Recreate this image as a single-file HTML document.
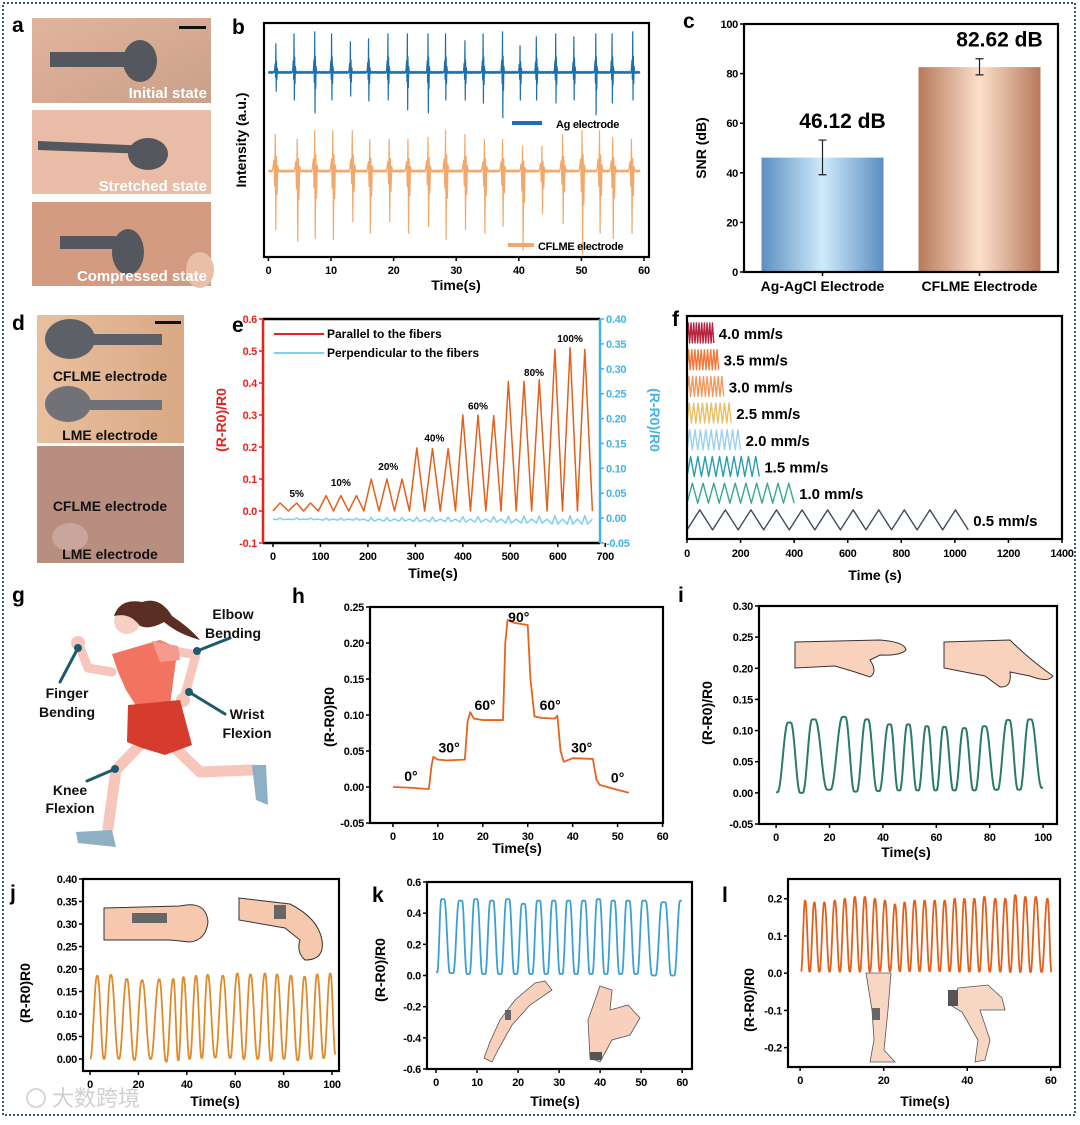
<!DOCTYPE html>
<html><head><meta charset="utf-8">
<style>
html,body{margin:0;padding:0;background:#fff;}
svg text{font-family:"Liberation Sans Narrow","Liberation Sans",sans-serif;font-weight:bold;}
.tk{font-size:11px;letter-spacing:-0.3px;}
.tt{font-size:14px;}
.pl{font-size:21px;font-family:"Liberation Sans",sans-serif !important;}
</style></head>
<body>
<svg id="fig" xmlns="http://www.w3.org/2000/svg" width="1080" height="1120" viewBox="0 0 1080 1120">
<defs>
<linearGradient id="gAg" x1="0" x2="1" y1="0" y2="0"><stop offset="0" stop-color="#5b8fc0"/><stop offset="0.5" stop-color="#cfeafc"/><stop offset="1" stop-color="#5b8fc0"/></linearGradient>
<linearGradient id="gCf" x1="0" x2="1" y1="0" y2="0"><stop offset="0" stop-color="#b8795a"/><stop offset="0.5" stop-color="#fbe0cc"/><stop offset="1" stop-color="#b8795a"/></linearGradient>
<linearGradient id="skin1" x1="0" x2="1" y1="0" y2="1"><stop offset="0" stop-color="#e2b49c"/><stop offset="1" stop-color="#caa08a"/></linearGradient>
<linearGradient id="skin2" x1="0" x2="1" y1="0" y2="0"><stop offset="0" stop-color="#e9c09e"/><stop offset="1" stop-color="#d9a884"/></linearGradient>
</defs>
<rect x="3" y="3" width="1072" height="1112" fill="none" stroke="#2b5a6e" stroke-width="2" stroke-dasharray="2 2"/>

<g>
 <rect x="32" y="18" width="179" height="85" fill="url(#skin1)"/>
 <rect x="50" y="52" width="90" height="15" fill="#55575e"/>
 <ellipse cx="140" cy="61" rx="17" ry="21" fill="#55575e"/>
 <rect x="179" y="26" width="27" height="3" fill="#111"/>
 <text x="207" y="98" text-anchor="end" fill="#fff" font-size="15" style="font-family:'Liberation Sans',sans-serif">Initial state</text>
 <rect x="32" y="110" width="179" height="84" fill="#e8bca6"/>
 <polygon points="38,141 150,146 150,154 38,150" fill="#55575e"/>
 <ellipse cx="148" cy="154" rx="20" ry="16" fill="#55575e"/>
 <text x="207" y="191" text-anchor="end" fill="#fff" font-size="15" style="font-family:'Liberation Sans',sans-serif">Stretched state</text>
 <rect x="32" y="202" width="179" height="84" fill="#d39c82"/>
 <rect x="60" y="236" width="56" height="13" fill="#55575e"/>
 <ellipse cx="128" cy="252" rx="16" ry="23" fill="#55575e"/>
 <ellipse cx="200" cy="270" rx="14" ry="18" fill="#e8c0a8"/>
 <text x="207" y="281" text-anchor="end" fill="#fff" font-size="15" style="font-family:'Liberation Sans',sans-serif">Compressed state</text>
</g>
<g>
 <rect x="37" y="315" width="147" height="128" fill="url(#skin2)"/>
 <ellipse cx="70" cy="339" rx="25" ry="20" fill="#5e6068"/>
 <rect x="90" y="334" width="72" height="11" fill="#5e6068"/>
 <rect x="155" y="321" width="26" height="3" fill="#111"/>
 <text x="110" y="381" text-anchor="middle" fill="#111" font-size="14" style="font-family:'Liberation Sans',sans-serif">CFLME electrode</text>
 <ellipse cx="68" cy="404" rx="23" ry="18" fill="#707278"/>
 <rect x="86" y="400" width="76" height="10" fill="#707278"/>
 <text x="110" y="440" text-anchor="middle" fill="#111" font-size="14" style="font-family:'Liberation Sans',sans-serif">LME electrode</text>
 <rect x="37" y="446" width="147" height="117" fill="#b88e80"/>
 <ellipse cx="70" cy="537" rx="18" ry="14" fill="#c9a59c"/>
 <text x="110" y="511" text-anchor="middle" fill="#111" font-size="14" style="font-family:'Liberation Sans',sans-serif">CFLME electrode</text>
 <text x="110" y="559" text-anchor="middle" fill="#111" font-size="14" style="font-family:'Liberation Sans',sans-serif">LME electrode</text>
</g>
<g stroke-linecap="round" stroke-linejoin="round">
 <polyline points="140,745 116,770 108,828" fill="none" stroke="#f7c6ba" stroke-width="11"/>
 <polyline points="172,745 200,772 252,770" fill="none" stroke="#f7c6ba" stroke-width="11"/>
 <path d="M76,832 L112,830 L116,847 L78,843 Z" fill="#8fb0c4"/>
 <path d="M252,765 L266,765 L268,805 L256,800 Z" fill="#8fb0c4"/>
 <polyline points="78,642 88,668 112,672" fill="none" stroke="#f7c6ba" stroke-width="9"/>
 <polyline points="170,650 196,655 184,698" fill="none" stroke="#f7c6ba" stroke-width="9"/>
 <circle cx="78" cy="643" r="7" fill="#f7c6ba"/>
 <circle cx="183" cy="700" r="7" fill="#f7c6ba"/>
 <polygon points="112,654 160,640 178,648 176,660 170,705 140,712 126,690 118,672" fill="#f2735f"/>
 <polygon points="152,641 178,646 180,660 160,662" fill="#f59a8c"/>
 <polygon points="128,705 180,700 192,745 165,755 142,748 127,742" fill="#d53c2b"/>
 <circle cx="127" cy="621" r="13" fill="#f7d0c4"/>
 <path d="M114,616 Q120,598 142,602 Q160,596 172,616 Q190,628 200,640 Q178,634 164,622 Q150,630 140,626 Q130,612 114,616 Z" fill="#5b2e24"/>
 <line x1="78" y1="648" x2="60" y2="682" stroke="#1e5a6e" stroke-width="3"/>
 <circle cx="78" cy="648" r="4" fill="#1e5a6e"/>
 <line x1="197" y1="651" x2="230" y2="638" stroke="#1e5a6e" stroke-width="3"/>
 <circle cx="197" cy="651" r="4" fill="#1e5a6e"/>
 <line x1="189" y1="692" x2="225" y2="714" stroke="#1e5a6e" stroke-width="3"/>
 <circle cx="189" cy="692" r="4" fill="#1e5a6e"/>
 <line x1="115" y1="769" x2="87" y2="781" stroke="#1e5a6e" stroke-width="3"/>
 <circle cx="115" cy="769" r="4" fill="#1e5a6e"/>
</g>
<g font-size="14" fill="#111">
 <text x="233" y="619" text-anchor="middle" style="font-family:'Liberation Sans',sans-serif">Elbow</text>
 <text x="233" y="638" text-anchor="middle" style="font-family:'Liberation Sans',sans-serif">Bending</text>
 <text x="67" y="698" text-anchor="middle" style="font-family:'Liberation Sans',sans-serif">Finger</text>
 <text x="67" y="717" text-anchor="middle" style="font-family:'Liberation Sans',sans-serif">Bending</text>
 <text x="247" y="719" text-anchor="middle" style="font-family:'Liberation Sans',sans-serif">Wrist</text>
 <text x="247" y="738" text-anchor="middle" style="font-family:'Liberation Sans',sans-serif">Flexion</text>
 <text x="70" y="795" text-anchor="middle" style="font-family:'Liberation Sans',sans-serif">Knee</text>
 <text x="70" y="813" text-anchor="middle" style="font-family:'Liberation Sans',sans-serif">Flexion</text>
</g>
<g stroke="#333" stroke-width="1">
 <path d="M795,642 L880,640 Q905,642 906,650 Q900,656 880,655 L870,660 Q878,672 870,677 L855,672 L835,666 L795,668 Z" fill="#f9d2bc"/>
 <path d="M944,642 L1010,640 Q1030,660 1053,676 Q1048,683 1030,676 L1010,672 Q1012,688 1000,687 L985,676 L944,668 Z" fill="#f9d2bc"/>
</g>
<g stroke="#333" stroke-width="1">
 <path d="M104,908 L180,906 Q206,900 208,922 Q206,940 190,942 L170,940 L104,940 Z" fill="#f6c9ae"/>
 <rect x="132" y="913" width="35" height="10" fill="#666" stroke="none"/>
 <path d="M239,898 L290,904 Q318,918 322,940 Q325,960 305,960 Q296,952 300,940 L285,928 L239,920 Z" fill="#f6c9ae"/>
 <rect x="274" y="905" width="12" height="14" fill="#666" stroke="none"/>
</g>
<g stroke="#555" stroke-width="0.8">
 <path d="M545,981 L552,990 L530,1005 L512,1025 L498,1050 L492,1062 L484,1058 L490,1042 L500,1020 L515,1000 L535,983 Z" fill="#f8d0bc"/>
 <rect x="505" y="1010" width="6" height="10" fill="#666" stroke="none"/>
 <path d="M600,986 L612,990 L610,1010 L628,1005 L640,1018 L630,1035 L612,1040 L600,1062 L590,1058 L588,1020 Z" fill="#f8d0bc"/>
 <rect x="590" y="1052" width="12" height="8" fill="#555" stroke="none"/>
</g>
<g stroke="#555" stroke-width="0.8">
 <path d="M866,973 L891,973 L888,1010 L884,1050 L895,1062 L870,1062 L874,1040 L872,1010 Z" fill="#f8d6c4"/>
 <rect x="872" y="1008" width="8" height="12" fill="#666" stroke="none"/>
 <path d="M958,988 L988,985 L1002,998 L1005,1010 L980,1010 L990,1040 L985,1060 L975,1062 L978,1040 L962,1012 L950,1005 Z" fill="#f8d6c4"/>
 <rect x="948" y="990" width="10" height="16" fill="#555" stroke="none"/>
</g>
<g>
 <circle cx="36" cy="1098" r="9" fill="none" stroke="#d8d8d8" stroke-width="2"/>
 <text x="52" y="1106" fill="#d0d0d0" font-size="22" style="font-family:'Noto Sans CJK SC',sans-serif;font-weight:normal">大数跨境</text>
</g>
</svg>
<script>
// ---------- data ----------
const bTicks=[0,10,20,30,40,50,60];
const bAgBeats=[1.2,4.1,7.4,10.1,13.1,16.0,19.1,22.2,25.5,28.3,31.4,34.3,37.4,40.2,42.8,45.9,48.8,52.3,54.9,58.2];
const bAgUp=[0.29,0.39,0.41,0.39,0.31,0.34,0.39,0.39,0.39,0.39,0.32,0.39,0.41,0.27,0.36,0.39,0.36,0.39,0.39,0.41];
const bAgDown=[0.19,0.28,0.41,0.28,0.24,0.29,0.28,0.38,0.41,0.28,0.28,0.31,0.46,0.28,0.28,0.31,0.28,0.43,0.31,0.28];
const bCfBeats=[1.1,4.6,7.4,10.3,13.4,16.2,19.3,22.3,25.5,28.3,31.4,34.5,37.4,40.6,43.7,47.0,50.1,52.9,55.0,58.0];
const bCfUp=[0.37,0.32,0.41,0.41,0.41,0.32,0.32,0.32,0.34,0.41,0.37,0.32,0.32,0.25,0.25,0.37,0.41,0.41,0.34,0.32];
const bCfDown=[0.59,0.71,0.68,0.69,0.51,0.63,0.51,0.63,0.56,0.69,0.59,0.63,0.56,0.80,0.43,0.53,0.84,0.63,0.68,0.63];

const cCats=['Ag-AgCl Electrode','CFLME Electrode'];
const cVals=[46.12,82.62];
const cErrLo=[39.2,79.5];
const cErrHi=[53.2,86.0];
const cValLabels=['46.12 dB','82.62 dB'];
const cYTicks=[0,20,40,60,80,100];

const eXTicks=[0,100,200,300,400,500,600,700];
const eLTicks=[-0.1,0,0.1,0.2,0.3,0.4,0.5,0.6];
const eLLabels=['-0.1','0.0','0.1','0.2','0.3','0.4','0.5','0.6'];
const eRTicks=[-0.05,0,0.05,0.1,0.15,0.2,0.25,0.3,0.35,0.4];
const eRLabels=['-0.05','0.00','0.05','0.10','0.15','0.20','0.25','0.30','0.35','0.40'];
const ePeakT=[15,50,79,112,143,176,207,240,272,303,336,369,400,432,465,496,529,561,594,626,657];
const ePeakV=[0.025,0.025,0.025,0.048,0.048,0.048,0.1,0.1,0.1,0.197,0.195,0.195,0.3,0.3,0.298,0.405,0.405,0.41,0.505,0.51,0.505];
const ePerpHi=[0.0,0.0,0.0,0.0,0.0,0.0,0.001,0.001,0.001,0.002,0.002,0.002,0.003,0.003,0.003,0.004,0.004,0.004,0.005,0.005,0.005];
const ePerpLo=[-0.003,-0.003,-0.003,-0.004,-0.004,-0.004,-0.006,-0.006,-0.006,-0.007,-0.007,-0.007,-0.008,-0.008,-0.008,-0.010,-0.010,-0.010,-0.012,-0.012,-0.012];
const eAnnText=['5%','10%','20%','40%','60%','80%','100%'];
const eAnnT=[50,143,243,340,432,550,626];
const eAnnV=[0.057,0.09,0.14,0.23,0.33,0.435,0.54];

const fXTicks=[0,200,400,600,800,1000,1200,1400];
const fSpeeds=['4.0 mm/s','3.5 mm/s','3.0 mm/s','2.5 mm/s','2.0 mm/s','1.5 mm/s','1.0 mm/s','0.5 mm/s'];
const fEnd=[100,118,137,165,200,270,400,1050];
const fCycles=[10,10,10,10,10,10,10,11];

const hXTicks=[0,10,20,30,40,50,60];
const hYTicks=[-0.05,0,0.05,0.1,0.15,0.2,0.25];
const hYLabels=['-0.05','0.00','0.05','0.10','0.15','0.20','0.25'];
const hT=[0,4,8,8.6,9,10,12,16,16.6,17.2,18,20,24.5,25,25.5,27,30,30.6,31.5,33,36,36.6,37.3,38,40,44.5,45.3,46,50,52.5];
const hV=[0,-0.001,-0.003,0.03,0.042,0.038,0.037,0.038,0.09,0.104,0.095,0.093,0.093,0.2,0.232,0.228,0.225,0.15,0.098,0.096,0.095,0.099,0.05,0.035,0.04,0.039,0.01,0.003,-0.004,-0.008];
const hAnnText=['0°','30°','60°','90°','60°','30°','0°'];
const hAnnT=[4,12.5,20.5,28,35,42,50];
const hAnnV=[0.008,0.048,0.107,0.229,0.107,0.048,0.006];

const iXTicks=[0,20,40,60,80,100];
const iYTicks=[-0.05,0,0.05,0.1,0.15,0.2,0.25,0.3];
const iYLabels=['-0.05','0.00','0.05','0.10','0.15','0.20','0.25','0.30'];
const iPeakT=[5,14,25.5,34,42.5,49.5,56.5,63,70.5,78,87,95];
const iPeakV=[0.113,0.118,0.122,0.118,0.11,0.11,0.107,0.106,0.104,0.107,0.117,0.118];
const iValV=[0,0.005,0.002,0.003,0.004,0.004,0.004,0.004,0.004,0.005,0.005];

const jXTicks=[0,20,40,60,80,100];
const jYTicks=[0,0.05,0.1,0.15,0.2,0.25,0.3,0.35,0.4];
const jYLabels=['0.00','0.05','0.10','0.15','0.20','0.25','0.30','0.35','0.40'];
const jPeakT=[3.0,8.6,15.2,21.5,28.6,34.4,38.6,43.8,48.6,54.9,60.9,66.3,72.3,77.3,83.0,88.7,93.9,99.3];
const jPeakV=[0.185,0.187,0.178,0.175,0.177,0.178,0.182,0.185,0.187,0.185,0.19,0.188,0.19,0.188,0.185,0.183,0.188,0.19];
const jValV=[0.0,0.0,-0.002,0.0,-0.006,-0.003,0.0,0.002,0.003,0.002,0.0,0.0,-0.004,0.0,-0.003,0.0,0.002];

const kXTicks=[0,10,20,30,40,50,60];
const kYTicks=[-0.6,-0.4,-0.2,0,0.2,0.4,0.6];
const kYLabels=['-0.6','-0.4','-0.2','0.0','0.2','0.4','0.6'];
const kPeakT=[1.6,6,9.7,13.6,17.5,21.3,25,28.7,32.3,36,39.6,43.2,46.8,50.7,55.5,59.9];
const kPeakV=[0.49,0.48,0.49,0.48,0.49,0.46,0.48,0.48,0.48,0.48,0.49,0.48,0.48,0.48,0.47,0.48];
const kValV=[0.015,0.01,0.01,0.01,0.01,0.01,0.01,0.01,0.01,0.01,0.01,0.01,0.01,0.0,0.0];

const lXTicks=[0,20,40,60];
const lYTicks=[-0.2,-0.1,0,0.1,0.2];
const lYLabels=['-0.2','-0.1','0.0','0.1','0.2'];
const lPeakT=[1.2,3.4,5.8,8.3,10.7,13.1,15.5,17.9,20.3,22.7,25,27.4,29.8,32.2,34.6,37,39.3,41.7,44.1,46.7,49.1,51.5,53.9,56.4,59.2];
const lPeakV=[0.195,0.19,0.19,0.195,0.2,0.205,0.205,0.2,0.195,0.185,0.19,0.195,0.195,0.195,0.195,0.2,0.2,0.2,0.205,0.2,0.2,0.21,0.205,0.205,0.2];
const lValV=[0.004,0.004,0.004,0.004,0.004,0.004,0.004,0.005,0.005,0.005,0.005,0.005,0.005,0.005,0.005,0.004,0.004,0.004,0.004,0.004,0.003,0.003,0.003,0.003];

// ---------- helpers ----------
const NS='http://www.w3.org/2000/svg';
const svg=document.getElementById('fig');
function mk(tag,a,p){const e=document.createElementNS(NS,tag);for(const k in a)e.setAttribute(k,a[k]);(p||svg).appendChild(e);return e;}
function txt(s,a,p){const e=mk('text',a,p);e.textContent=s;return e;}
function lin(d0,d1,p0,p1){return v=>p0+(v-d0)/(d1-d0)*(p1-p0);}
function group(name){const g=mk('g',{});return g;}
function frame(g,b,color){
  const r=mk('rect',{x:b.x0,y:b.y0,width:b.x1-b.x0,height:b.y1-b.y0,fill:'none',stroke:color||'#000','stroke-width':2.2},g);
  
  
}
function xAxis(g,b,sx,ticks,labels,ly){
  ticks.forEach((t,i)=>{
    const l=mk('line',{x1:sx(t),x2:sx(t),y1:b.y1,y2:b.y1+4,stroke:'#000','stroke-width':1.5},g);
    
    
    const s=txt(labels?labels[i]:String(t),{x:sx(t),y:ly||b.y1+17,'text-anchor':'middle',class:'tk'},g);
    
    
  });
}
function yAxis(g,b,sy,ticks,labels,side,color){
  const x=side==='r'?b.x1:b.x0;
  const d=side==='r'?1:-1;
  ticks.forEach((t,i)=>{
    const l=mk('line',{x1:x,x2:x+4*d,y1:sy(t),y2:sy(t),stroke:color||'#000','stroke-width':1.5},g);
    
    
    const s=txt(labels[i],{x:x+6*d,y:sy(t)+4,'text-anchor':side==='r'?'start':'end',class:'tk',fill:color||'#000'},g);
    
    
  });
}
function title(g,s,x,y,rot,color,name){
  const a={x:x,y:y,'text-anchor':'middle',class:'tt',fill:color||'#000'};
  if(rot)a.transform='rotate(-90 '+x+' '+y+')';
  const t=txt(s,a,g);
  
  
  return t;
}
function panelLabel(s,x,y){
  const t=txt(s,{x:x,y:y,class:'pl'});
  
  
}
function path(g,pts,sx,sy,color,w,name){
  const d=pts.map((p,i)=>(i?'L':'M')+sx(p[0]).toFixed(2)+','+sy(p[1]).toFixed(2)).join('');
  const e=mk('path',{d:d,fill:'none',stroke:color,'stroke-width':w,'stroke-linejoin':'round'},g);
  
  
  return e;
}
function wave(pT,pV,vV,t0,v0,t1,v1,flat){
  const kn=[[t0,v0]];
  pT.forEach((t,i)=>{kn.push([t,pV[i]]);if(i<pT.length-1)kn.push([(t+pT[i+1])/2,vV[i]!==undefined?vV[i]:0]);});
  if(t1!==null)kn.push([t1,v1]);
  const out=[];
  for(let i=0;i<kn.length-1;i++){
    const a=kn[i],b=kn[i+1];
    for(let s=0;s<12;s++){
      const u=s/12;
      let f=Math.min(1,Math.max(0,(u-flat)/(1-2*flat)));
      const w=(1-Math.cos(Math.PI*f))/2;
      out.push([a[0]+(b[0]-a[0])*u,a[1]+(b[1]-a[1])*w]);
    }
  }
  out.push(kn[kn.length-1]);
  return out;
}

panelLabel('a',12,32);panelLabel('b',232,34);panelLabel('c',683,28);
panelLabel('d',12,330);panelLabel('e',232,332);panelLabel('f',672,326);
panelLabel('g',12,602);panelLabel('h',292,603);panelLabel('i',678,602);
panelLabel('j',10,900);panelLabel('k',372,902);panelLabel('l',722,902);

// ---------- b ----------
(function(){
  const g=group('panel-b-ecg');
  const b={x0:264,y0:23,x1:649,y1:257};
  const sx=lin(-0.7,60.8,b.x0,b.x1), sy=lin(-0.87,1.5,b.y1,b.y0);
  function ecg(beats,up,down,base,wid){
    const pts=[];let t=0,k=0;
    beats.forEach((bt,i)=>{
      while(t<bt-0.25*wid){pts.push([t,base+(k%2?0.01:-0.01)]);t+=0.12;k++;}
      const o=[[-0.25,0],[-0.12,up[i]*0.3],[-0.06,-down[i]*0.25],[0,up[i]],[0.05,-down[i]],[0.1,up[i]*0.4],[0.16,-down[i]*0.4],[0.22,up[i]*0.15],[0.3,0]];
      o.forEach(p=>pts.push([bt+p[0]*wid,base+p[1]]));
      t=bt+0.3*wid;
    });
    while(t<59.4){pts.push([t,base+(k%2?0.01:-0.01)]);t+=0.12;k++;}
    return pts;
  }
  path(g,ecg(bAgBeats,bAgUp,bAgDown,1.0,1),sx,sy,'#1f6fa8',1.2,'ag-electrode-trace');
  path(g,ecg(bCfBeats,bCfUp,bCfDown,0,1.8),sx,sy,'#f2a86a',1.2,'cflme-electrode-trace');
  frame(g,b);
  xAxis(g,b,sx,bTicks);
  title(g,'Time(s)',456,290,false,'#000','x-axis-title');
  title(g,'Intensity (a.u.)',246,140,true,'#000','y-axis-title');
  const l1=mk('line',{x1:512,x2:542,y1:123,y2:123,stroke:'#1f6fa8','stroke-width':4},g);
  
  
  const t1=txt('Ag electrode',{x:556,y:128,class:'tk','font-size':'13'},g);
  
  
  const l2=mk('line',{x1:508,x2:534,y1:245,y2:245,stroke:'#f2a86a','stroke-width':4},g);
  
  
  const t2=txt('CFLME electrode',{x:538,y:250,class:'tk','font-size':'13'},g);
  
  
})();

// ---------- c ----------
(function(){
  const g=group('panel-c-snr');
  const b={x0:744,y0:24,x1:1058,y1:272};
  const sy=lin(0,100,b.y1,b.y0);
  const bw=(b.x1-b.x0)/cCats.length;
  const bx=i=>b.x0+(i+0.5)*bw;
  const fills=['url(#gAg)','url(#gCf)'];
  cCats.forEach((c,i)=>{
    const r=mk('rect',{x:bx(i)-61,y:sy(cVals[i]),width:122,height:sy(0)-sy(cVals[i]),fill:fills[i]},g);
    
    
    const e=mk('path',{d:'M'+bx(i)+','+sy(cErrLo[i])+'V'+sy(cErrHi[i])+'M'+(bx(i)-4)+','+sy(cErrLo[i])+'h8M'+(bx(i)-4)+','+sy(cErrHi[i])+'h8',stroke:'#222','stroke-width':1.2,fill:'none'},g);
    
    
    const v=txt(cValLabels[i],{x:bx(i)+20,y:sy(cErrHi[i])-12,'text-anchor':'middle','font-size':'21'},g);
    
    
    const tk=mk('line',{x1:bx(i),x2:bx(i),y1:b.y1,y2:b.y1+4,stroke:'#000','stroke-width':1.5},g);
    
    
    const cl=txt(c,{x:bx(i),y:b.y1+19,'text-anchor':'middle','font-size':'14'},g);
    
    
  });
  frame(g,b);
  yAxis(g,b,sy,cYTicks,cYTicks.map(String),'l');
  title(g,'SNR (dB)',706,148,true,'#000','y-axis-title');
})();

// ---------- e ----------
(function(){
  const g=group('panel-e-strain');
  const b={x0:263,y0:319,x1:600,y1:543};
  const sx=lin(-21,689,b.x0,b.x1), syL=lin(-0.1,0.6,b.y1,b.y0), syR=lin(-0.05,0.4,b.y1,b.y0);
  const par=[[0,0]];
  ePeakT.forEach((t,i)=>{par.push([t,ePeakV[i]]);par.push([i<ePeakT.length-1?(t+ePeakT[i+1])/2:673,0]);});
  path(g,par,sx,syL,'#e2601c',1.5,'parallel-trace');
  const perp=[[0,-0.002]];
  ePeakT.forEach((t,i)=>{perp.push([t-6,ePerpLo[i]]);perp.push([t,ePerpHi[i]]);perp.push([t+6,ePerpLo[i]]);perp.push([i<ePeakT.length-1?(t+ePeakT[i+1])/2:673,-0.002]);});
  path(g,perp,sx,syR,'#80cff2',1.5,'perpendicular-trace');
  const fr=mk('path',{d:`M${b.x0},${b.y0}H${b.x1}M${b.x0},${b.y1}H${b.x1}`,stroke:'#000','stroke-width':2.5,fill:'none'},g);
  
  
  const la=mk('line',{x1:b.x0,x2:b.x0,y1:b.y0,y2:b.y1,stroke:'#e8231f','stroke-width':2.5},g);
  
  
  const ra=mk('line',{x1:b.x1,x2:b.x1,y1:b.y0,y2:b.y1,stroke:'#45b3e8','stroke-width':2.5},g);
  
  
  xAxis(g,b,sx,eXTicks);
  yAxis(g,b,syL,eLTicks,eLLabels,'l','#e8231f');
  yAxis(g,b,syR,eRTicks,eRLabels,'r','#45b3e8');
  title(g,'Time(s)',433,578,false,'#000','x-axis-title');
  title(g,'(R-R0)/R0',226,420,true,'#e8231f','y-axis-title-left');
  title(g,'(R-R0)/R0',650,420,true,'#45b3e8','y-axis-title-right').setAttribute('transform','rotate(90 650 420)');
  eAnnText.forEach((s,i)=>{
    const t=txt(s,{x:sx(eAnnT[i]),y:syL(eAnnV[i])+4,'text-anchor':'middle','font-size':'10'},g);
    
    
  });
  const ll1=mk('line',{x1:274,x2:324,y1:334,y2:334,stroke:'#e8231f','stroke-width':2},g);
  
  
  const lt1=txt('Parallel to the fibers',{x:327,y:338,'font-size':'12'},g);
  
  
  const ll2=mk('line',{x1:274,x2:324,y1:353,y2:353,stroke:'#80cff2','stroke-width':2},g);
  
  
  const lt2=txt('Perpendicular to the fibers',{x:327,y:357,'font-size':'12'},g);
  
  
})();

// ---------- f ----------
(function(){
  const g=group('panel-f-speed');
  const b={x0:687,y0:316,x1:1062,y1:539};
  const sx=lin(0,1400,b.x0,b.x1);
  const colors=['#b82440','#f2783a','#f29a62','#e8c064','#9cd0ec','#2a9cb8','#38a890','#3e4c5c'];
  fSpeeds.forEach((s,i)=>{
    const cy=333+i*26.7;
    const sy=lin(0,1,cy+10,cy-10);
    const per=fEnd[i]/fCycles[i];
    const pts=[];
    for(let k=0;k<fCycles[i];k++){pts.push([k*per,0]);pts.push([(k+0.5)*per,1]);}
    pts.push([fEnd[i],0]);
    path(g,pts,sx,sy,colors[i],1.4,'speed-trace');
    const t=txt(s,{x:sx(fEnd[i])+5,y:cy+6,'font-size':'15'},g);
    
    
  });
  frame(g,b);
  xAxis(g,b,sx,fXTicks,null,b.y1+18);
  title(g,'Time (s)',875,580,false,'#000','x-axis-title');
})();

// ---------- h ----------
(function(){
  const g=group('panel-h-elbow-angle');
  const b={x0:370,y0:607,x1:663,y1:823};
  const sx=lin(-5.1,60.1,b.x0,b.x1), sy=lin(-0.05,0.25,b.y1,b.y0);
  path(g,hT.map((t,i)=>[t,hV[i]]),sx,sy,'#e8621e',1.8,'angle-trace');
  frame(g,b);
  xAxis(g,b,sx,hXTicks);
  yAxis(g,b,sy,hYTicks,hYLabels,'l');
  title(g,'Time(s)',517,853,false,'#000','x-axis-title');
  title(g,'(R-R0)R0',334,717,true,'#000','y-axis-title');
  hAnnText.forEach((s,i)=>{
    const t=txt(s,{x:sx(hAnnT[i]),y:sy(hAnnV[i]),'text-anchor':'middle','font-size':'14'},g);
    
    
  });
})();

// ---------- i ----------
(function(){
  const g=group('panel-i-finger');
  const b={x0:759,y0:606,x1:1057,y1:824};
  const sx=lin(-6.4,105.2,b.x0,b.x1), sy=lin(-0.05,0.3,b.y1,b.y0);
  path(g,wave(iPeakT,iPeakV,iValV,0,0.001,100,0.008,0.12),sx,sy,'#2a7a6a',2,'finger-trace');
  frame(g,b);
  xAxis(g,b,sx,iXTicks);
  yAxis(g,b,sy,iYTicks,iYLabels,'l');
  title(g,'Time(s)',906,857,false,'#000','x-axis-title');
  title(g,'(R-R0)/R0',712,713,true,'#000','y-axis-title');
})();

// ---------- j ----------
(function(){
  const g=group('panel-j-wrist');
  const b={x0:83,y0:879,x1:339,y1:1071};
  const sx=lin(-2.9,102.9,b.x0,b.x1), sy=lin(-0.0267,0.4,b.y1,b.y0);
  path(g,wave(jPeakT,jPeakV,jValV,0,0,101.5,0.01,0.05),sx,sy,'#e08a2a',1.8,'wrist-trace');
  frame(g,b);
  xAxis(g,b,sx,jXTicks);
  yAxis(g,b,sy,jYTicks,jYLabels,'l');
  title(g,'Time(s)',215,1106,false,'#000','x-axis-title');
  title(g,'(R-R0)R0',30,993,true,'#000','y-axis-title');
})();

// ---------- k ----------
(function(){
  const g=group('panel-k-elbow');
  const b={x0:427,y0:882,x1:692,y1:1069};
  const sx=lin(-2.2,62.4,b.x0,b.x1), sy=lin(-0.6,0.6,b.y1,b.y0);
  path(g,wave(kPeakT,kPeakV,kValV,0,0.02,null,0,0.2),sx,sy,'#3ba0d4',1.8,'elbow-trace');
  frame(g,b);
  xAxis(g,b,sx,kXTicks);
  yAxis(g,b,sy,kYTicks,kYLabels,'l');
  title(g,'Time(s)',555,1106,false,'#000','x-axis-title');
  title(g,'(R-R0)/R0',385,970,true,'#000','y-axis-title');
})();

// ---------- l ----------
(function(){
  const g=group('panel-l-knee');
  const b={x0:788,y0:879,x1:1060,y1:1067};
  const sx=lin(-2.9,62.2,b.x0,b.x1), sy=lin(-0.252,0.253,b.y1,b.y0);
  path(g,wave(lPeakT,lPeakV,lValV,0.2,0.005,60.2,0.003,0.05),sx,sy,'#e2601c',1.8,'knee-trace');
  frame(g,b);
  xAxis(g,b,sx,lXTicks);
  yAxis(g,b,sy,lYTicks,lYLabels,'l');
  title(g,'Time(s)',925,1106,false,'#000','x-axis-title');
  title(g,'(R-R0)/R0',754,1000,true,'#000','y-axis-title');
})();
</script>
</body></html>
